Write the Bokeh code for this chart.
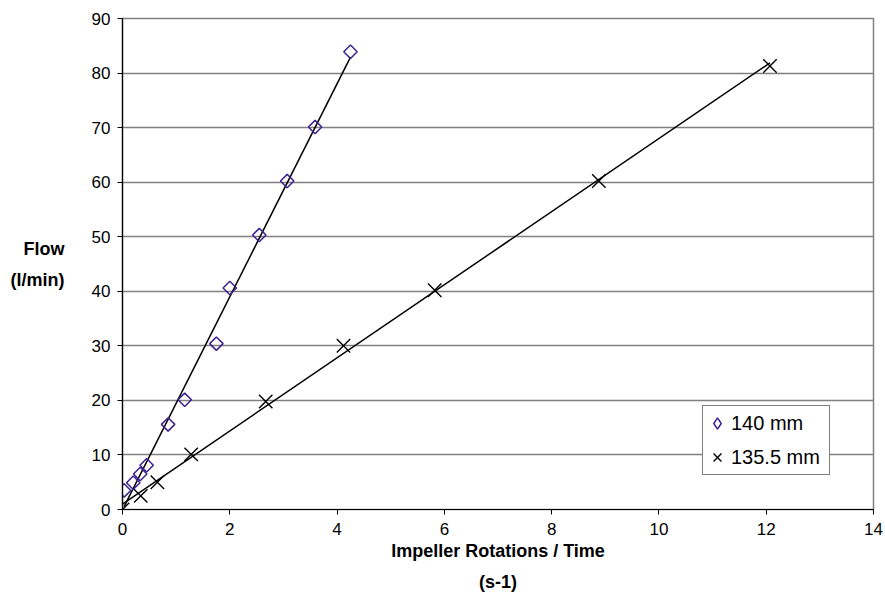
import numpy as np
from bokeh.plotting import figure
from bokeh.models import Range1d, FixedTicker, Legend, LegendItem
from bokeh.embed import file_html
from bokeh.resources import INLINE

# ---- data ----
d140_x = [0.03, 0.20, 0.33, 0.45, 0.85, 1.16, 1.75, 2.00, 2.55, 3.07, 3.59, 4.25]
d140_y = [3.5, 4.9, 6.5, 8.1, 15.6, 20.1, 30.4, 40.6, 50.3, 60.2, 70.1, 83.9]
d1355_x = [0.0, 0.34, 0.65, 1.28, 2.67, 4.12, 5.82, 8.88, 12.07]
d1355_y = [0.0, 2.5, 5.0, 10.1, 19.8, 30.0, 40.2, 60.2, 81.3]
series_names = ["140 mm", "135.5 mm"]
x_ticks = [0, 2, 4, 6, 8, 10, 12, 14]
y_ticks = [0, 10, 20, 30, 40, 50, 60, 70, 80, 90]
x_title = "Impeller Rotations / Time\n(s-1)"
y_title = "Flow\n(l/min)"

FONT = "Liberation Sans"
GRID = "#808080"
PURPLE = "#3a2290"

p = figure(width=884, height=605, output_backend="svg", toolbar_location=None,
           x_range=Range1d(0, 14), y_range=Range1d(0, 90),
           min_border_left=122, min_border_right=11, min_border_top=18, min_border_bottom=96)
p.background_fill_color = "white"
p.border_fill_color = "white"
p.outline_line_color = GRID
p.outline_line_width = 1.5

p.xgrid.visible = False
p.ygrid.grid_line_color = GRID
p.ygrid.grid_line_width = 1.5
p.ygrid.ticker = FixedTicker(ticks=y_ticks)

for ax, ticks in ((p.xaxis[0], x_ticks), (p.yaxis[0], y_ticks)):
    ax.ticker = FixedTicker(ticks=ticks)
    ax.axis_line_color = "black"
    ax.axis_line_width = 1.2
    ax.major_tick_line_color = "black"
    ax.major_tick_in = 0
    ax.major_tick_out = 5
    ax.minor_tick_line_color = None
    ax.major_label_text_font = FONT
    ax.major_label_text_font_size = "17px"
    ax.major_label_text_color = "black"
    ax.axis_label_text_font = FONT
    ax.axis_label_text_font_size = "18px"
    ax.axis_label_text_font_style = "bold"
    ax.axis_label_text_color = "black"
    ax.axis_label_text_line_height = 1.55
    ax.axis_label_text_align = "center"
p.xaxis.major_label_standoff = 8
p.yaxis.major_label_standoff = 7

p.xaxis.axis_label = x_title
p.xaxis.axis_label_standoff = 3
p.yaxis.axis_label = y_title
p.yaxis.axis_label_orientation = "horizontal"
p.yaxis.axis_label_standoff = 24

# trend lines (least squares fits of each series)
for xs, ys in ((d140_x, d140_y), (d1355_x, d1355_y)):
    m, b = np.polyfit(xs, ys, 1)
    lx = np.array([min(xs), max(xs)])
    p.line(lx, m * lx + b, line_color="black", line_width=1.5)

p.scatter(d140_x, d140_y, marker="square", angle=np.pi / 4, size=9.5,
          fill_color=None, line_color=PURPLE, line_width=1.5)
p.scatter(d1355_x, d1355_y, marker="x", size=19,
          line_color="black", line_width=1.4)

# legend swatches (no visible points of their own)
lg1 = p.scatter([np.nan], [np.nan], marker="diamond", fill_color=None,
                line_color=PURPLE, line_width=1.5)
lg2 = p.scatter([np.nan], [np.nan], marker="x", line_color="black", line_width=1.4)

legend = Legend(items=[LegendItem(label=series_names[0], renderers=[lg1]),
                       LegendItem(label=series_names[1], renderers=[lg2])],
                location=(580, 34))
legend.border_line_color = "black"
legend.border_line_width = 1
legend.background_fill_color = "white"
legend.background_fill_alpha = 1
legend.label_text_font = FONT
legend.label_text_font_size = "20px"
legend.label_text_color = "black"
legend.margin = 0
legend.padding = 0
legend.spacing = 0
legend.glyph_height = 34
legend.glyph_width = 28
legend.label_height = 34
legend.label_width = 98
legend.label_standoff = 0
p.add_layout(legend, "center")

open("out.html", "w").write(file_html(p, INLINE))
